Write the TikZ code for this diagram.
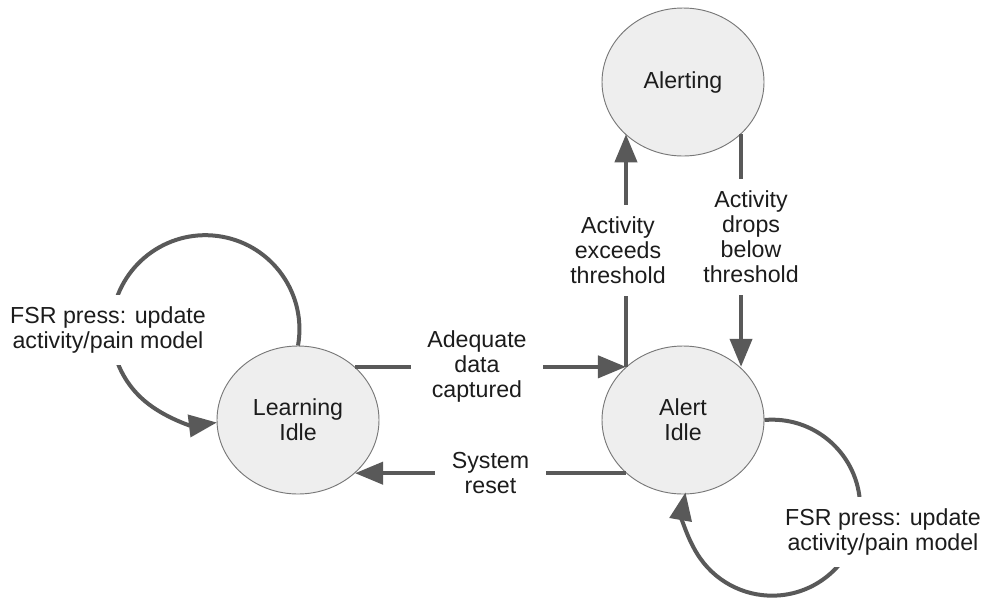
\documentclass[tikz,border=0pt]{standalone}
\usepackage{fontspec}
\setmainfont{Liberation Sans}
\usepackage{tikz}
\usetikzlibrary{shapes.geometric}
\usetikzlibrary{arrows.meta}
\usepackage{xcolor}
\definecolor{stfill}{RGB}{238, 238, 238}
\definecolor{stline}{RGB}{120, 120, 120}
\definecolor{arrgray}{RGB}{89, 89, 89}
\definecolor{txtdark}{RGB}{28, 28, 28}

\begin{document}
\begin{tikzpicture}[x=0.03cm,y=0.03cm,
  state/.style={ellipse,draw=stline,line width=0.8pt,fill=stfill,
    minimum width=4.86cm,minimum height=4.44cm,inner sep=0pt,
    align=center,text=txtdark,font=\fontsize{19.8}{21.3}\selectfont},
  lbl/.style={fill=white,align=center,text=txtdark,
    inner xsep=0.5cm,inner ysep=0.36cm,
    font=\fontsize{19.8}{21.3}\selectfont},
  arr/.style={-{Triangle[length=0.84cm,width=0.66cm]},
    line width=0.12cm,color=arrgray}
]
  \useasboundingbox (0,0) rectangle (983,-602);
  \node[state] (lrn) at (298,-420) {Learning\\Idle};
  \node[state] (aidle) at (683,-420) {Alert\\Idle};
  \node[state] (alrt) at (683,-82) {Alerting};
  \draw[arr] (lrn.43) -- node[lbl,pos=0.45] (adq) {Adequate\\data\\captured} (aidle.137);
  \draw[arr] (aidle.-137) -- node[lbl] (rst) {System\\reset} (lrn.-43);
  \draw[arr] (aidle.137) -- node[lbl,pos=0.5,xshift=-0.24cm] (exc)
    {Activity\\exceeds\\threshold} (aidle.137 |- alrt.222);
  \draw[arr] (alrt.-42) -- node[lbl,pos=0.44,xshift=0.3cm] (drp)
    {Activity\\drops\\below\\threshold} (alrt.-42 |- aidle.43);
  \draw[arr] (lrn.north) arc[start angle=-10,end angle=277,radius=2.82cm];
  \draw[arr] (aidle.east) arc[start angle=95,end angle=-190,radius=2.64cm];
  \node[lbl] (fsrl) at (108,-330) {FSR press: update\\activity/pain model};
  \node[lbl] (fsra) at (883,-532) {FSR press: update\\activity/pain model};
\end{tikzpicture}
\end{document}
